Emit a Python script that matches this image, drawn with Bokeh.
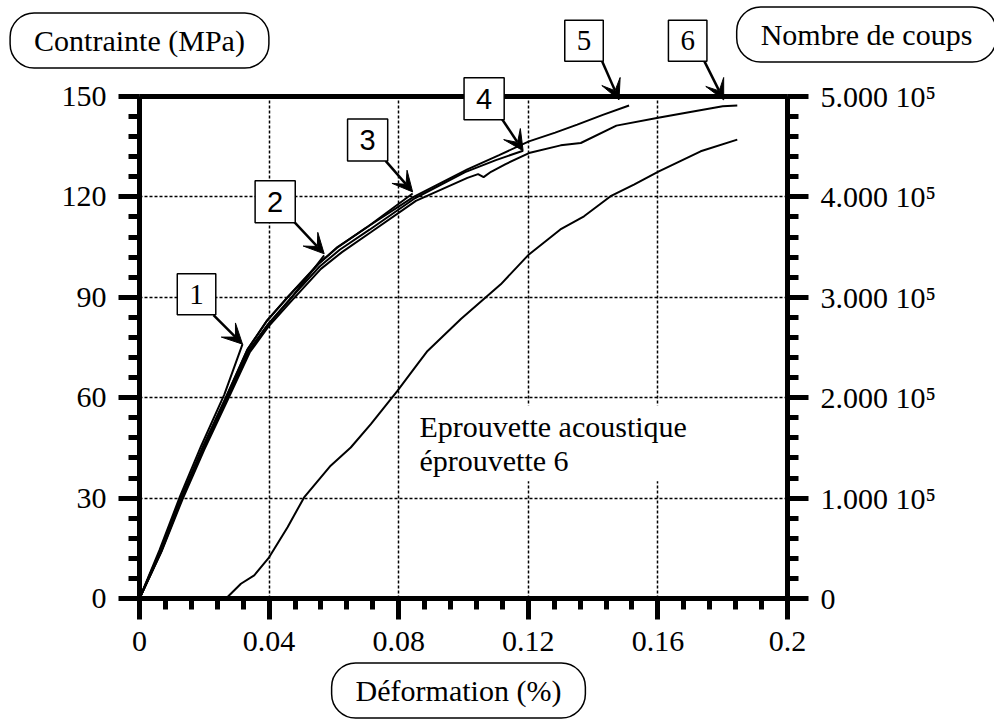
import numpy as np
from bokeh.plotting import figure
from bokeh.models import Range1d, LinearAxis, FixedTicker, Label, Arrow, VeeHead, Grid
from bokeh.embed import file_html
from bokeh.resources import INLINE

# ---------------- data ----------------
# cycles of loading (stress in MPa vs strain in %)
strain_c1 = [0, 0.0062, 0.0125, 0.0190, 0.0262, 0.0318]
stress_c1 = [0, 14.5, 30.5, 45.5, 61.0, 76.0]

strain_c2 = [0, 0.0066, 0.0130, 0.0198, 0.0270, 0.0338, 0.0398, 0.0462, 0.0570]
stress_c2 = [0, 14.0, 29.8, 44.8, 59.8, 74.0, 82.0, 89.0, 102.5]

strain_c3 = [0, 0.0064, 0.0127, 0.0193, 0.0265, 0.0332, 0.0392, 0.0455, 0.0550, 0.0610, 0.0700, 0.0843]
stress_c3 = [0, 14.2, 29.8, 44.8, 59.8, 74.2, 82.8, 89.8, 99.8, 104.8, 110.8, 121.0]

strain_c4 = [0, 0.0067, 0.0130, 0.0197, 0.0270, 0.0337, 0.0397, 0.0460, 0.0556, 0.0618, 0.0710, 0.0850, 0.1005, 0.1100, 0.1184]
stress_c4 = [0, 14.0, 29.6, 44.6, 59.6, 74.0, 82.0, 89.0, 99.2, 104.2, 110.2, 119.6, 127.4, 131.0, 133.8]

strain_c5 = [0, 0.0065, 0.0128, 0.0195, 0.0267, 0.0334, 0.0393, 0.0457, 0.0553, 0.0611, 0.0703, 0.0846,
             0.1012, 0.1110, 0.1202, 0.1283, 0.1351, 0.1430, 0.1511]
stress_c5 = [0, 14.5, 30.0, 45.0, 60.0, 74.5, 83.0, 90.0, 100.0, 105.0, 111.0, 120.0,
             128.2, 132.5, 136.6, 139.2, 141.6, 144.5, 147.3]

strain_c6 = [0, 0.0068, 0.0132, 0.0200, 0.0273, 0.0340, 0.0400, 0.0465, 0.0560, 0.0625, 0.0715, 0.0853,
             0.1012, 0.1045, 0.1062, 0.1085, 0.1130, 0.1202, 0.1300, 0.1362, 0.1472, 0.1605, 0.1700,
             0.1800, 0.1845]
stress_c6 = [0, 14.0, 29.5, 44.5, 59.5, 73.5, 81.5, 88.5, 98.5, 103.5, 109.5, 118.8,
             125.7, 126.8, 125.9, 127.5, 129.8, 133.1, 135.4, 136.1, 141.3, 143.7, 145.4,
             147.1, 147.3]

# acoustic emission (nombre de coups) vs strain
ae_strain = [0.0267, 0.0313, 0.0354, 0.0400, 0.0457, 0.0508, 0.0590, 0.0652, 0.0714, 0.0796, 0.0858,
             0.0889, 0.0992, 0.1115, 0.1202, 0.1299, 0.1372, 0.1454, 0.1526, 0.1603, 0.1732, 0.1845]
ae_counts = [0, 14700, 23000, 41000, 71000, 100700, 132300, 150400, 173700, 206800, 233400,
             246600, 278300, 312900, 342700, 367600, 380700, 400700, 412300, 425400, 445400, 457000]

# numbered markers (arrow tip points)
mark_labels = ["1", "2", "3", "4", "5", "6"]
mark_strain = [0.0318, 0.0570, 0.0843, 0.1184, 0.1480, 0.1803]
mark_stress = [76.0, 103.0, 121.5, 133.8, 149.0, 149.0]

x_ticks = [0.0, 0.04, 0.08, 0.12, 0.16, 0.2]
x_tick_labels = ["0", "0.04", "0.08", "0.12", "0.16", "0.2"]
y_ticks = [0, 30, 60, 90, 120, 150]
y2_ticks = [0, 100000, 200000, 300000, 400000, 500000]
y2_tick_labels = ["0", "1.000 10\u2075", "2.000 10\u2075", "3.000 10\u2075", "4.000 10\u2075", "5.000 10\u2075"]
x_grid = [0.04, 0.08, 0.12, 0.16]
y_grid = [30, 60, 90, 120]

X_MAX, Y_MAX, Y2_MAX = 0.2, 150.0, 500000.0

# ---------------- layout helpers (canvas pixels -> data) ----------------
W, H = 994, 722
FX0, FX1 = 139.0, 787.0   # data-area left/right, px
FY0, FY1 = 598.0, 96.0    # data-area bottom/top, px
def px2x(px):
    return (px - FX0) / (FX1 - FX0) * X_MAX
def px2y(py):
    return (FY0 - py) / (FY0 - FY1) * Y_MAX
def dpx2x(d):
    return d / (FX1 - FX0) * X_MAX
def dpx2y(d):
    return -d / (FY0 - FY1) * Y_MAX

SERIF = "Liberation Serif"
SANS = "Liberation Sans"

p = figure(width=W, height=H,
           x_range=Range1d(px2x(0), px2x(W)), y_range=Range1d(px2y(H), px2y(0)),
           x_axis_type=None, y_axis_type=None,
           output_backend="svg", toolbar_location=None, min_border=0,
           background_fill_color="white", border_fill_color="white")
p.outline_line_color = None
r = Y2_MAX / Y_MAX
p.extra_y_ranges = {"coups": Range1d(px2y(H) * r, px2y(0) * r)}

ax_b = LinearAxis(fixed_location=0, bounds=(0, X_MAX))
ax_l = LinearAxis(fixed_location=0, bounds=(0, Y_MAX))
ax_r = LinearAxis(fixed_location=X_MAX, bounds=(0, Y2_MAX), y_range_name="coups")
ax_t = LinearAxis(fixed_location=Y_MAX, bounds=(0, X_MAX))
p.add_layout(ax_b, "below")
p.add_layout(ax_l, "left")
p.add_layout(ax_r, "right")
p.add_layout(ax_t, "above")

ax_b.ticker = FixedTicker(ticks=x_ticks, minor_ticks=list(np.round(np.arange(0, 0.2001, 0.008), 4)))
ax_b.major_label_overrides = {t: l for t, l in zip(x_ticks, x_tick_labels)}
ax_l.ticker = FixedTicker(ticks=y_ticks, minor_ticks=list(range(0, 151, 6)))
ax_r.ticker = FixedTicker(ticks=y2_ticks, minor_ticks=list(range(0, 500001, 20000)))
ax_r.major_label_overrides = {t: l for t, l in zip(y2_ticks, y2_tick_labels)}
ax_t.ticker = FixedTicker(ticks=[], minor_ticks=[])

for ax in [ax_b, ax_l, ax_r, ax_t]:
    ax.axis_line_width = 5
    ax.axis_line_color = "black"
    ax.major_tick_line_width = 5
    ax.minor_tick_line_width = 5
    ax.major_tick_out = 21
    ax.major_tick_in = 0
    ax.minor_tick_out = 11
    ax.minor_tick_in = 0
    ax.major_label_text_font = SERIF
    ax.major_label_text_font_size = "30px"
    ax.major_label_text_color = "black"
    ax.major_label_standoff = 12

# dotted grid limited to the data area
gx = Grid(dimension=0, ticker=FixedTicker(ticks=x_grid))
gy = Grid(dimension=1, ticker=FixedTicker(ticks=y_grid))
has_cross = "cross_bounds" in Grid.properties()
for g, cb in [(gx, (0, Y_MAX)), (gy, (0, X_MAX))]:
    g.grid_line_color = "black"
    g.grid_line_dash = "3 2"
    g.grid_line_width = 1.5
    if has_cross:
        g.cross_bounds = cb
        p.add_layout(g, "center")
if not has_cross:
    p.segment(x0=x_grid, y0=[0] * len(x_grid), x1=x_grid, y1=[Y_MAX] * len(x_grid),
              line_color="black", line_dash="3 2", line_width=1.5, level="underlay")
    p.segment(x0=[0] * len(y_grid), y0=y_grid, x1=[X_MAX] * len(y_grid), y1=y_grid,
              line_color="black", line_dash="3 2", line_width=1.5, level="underlay")

for sx, sy in [(strain_c1, stress_c1), (strain_c2, stress_c2), (strain_c3, stress_c3),
               (strain_c4, stress_c4), (strain_c5, stress_c5), (strain_c6, stress_c6)]:
    p.line(sx, sy, line_color="black", line_width=2)

p.line(ae_strain, ae_counts, y_range_name="coups", line_color="black", line_width=2)

# arrows & numbered boxes
arrow_dpx = [(-29, -29), (-30, -32), (-27, -31), (-22, -33), (-18, -41), (-20, -40)]
box_dpx = [(-46, -50), (-49, -52), (-45, -52), (-39, -52), (-35, -59), (-36, -59)]
box_fonts = [SERIF, SANS, SANS, SANS, SERIF, SERIF]
for lab, xs, ys, (adx, ady), (bdx, bdy), fnt in zip(mark_labels, mark_strain, mark_stress,
                                                    arrow_dpx, box_dpx, box_fonts):
    p.add_layout(Arrow(end=VeeHead(size=20, fill_color="black", line_color="black", line_width=1),
                       x_start=xs + dpx2x(adx), y_start=ys + dpx2y(ady),
                       x_end=xs, y_end=ys, line_color="black", line_width=2.5))
    p.add_layout(Label(x=xs + dpx2x(bdx), y=ys + dpx2y(bdy), text=lab,
                       text_font=fnt, text_font_size="29px", text_align="center",
                       text_baseline="middle", text_color="black",
                       border_line_color="black", border_line_width=1.5,
                       background_fill_color="white", padding=(12, 11)))

# axis titles in rounded boxes
for txt, cx, cy in [("Contrainte (MPa)", 139, 40), ("Nombre de coups", 866, 34),
                    ("Déformation (%)", 458, 690)]:
    p.add_layout(Label(x=px2x(cx), y=px2y(cy), text=txt, text_font=SERIF,
                       text_font_size="30px", text_align="center", text_baseline="middle",
                       text_color="black", border_line_color="black", border_line_width=1.5,
                       background_fill_color="white", padding=(24, 11), border_radius=24))

p.add_layout(Label(x=px2x(415), y=px2y(405), text="Eprouvette acoustique\néprouvette 6",
                   text_font=SERIF, text_font_size="30px", text_align="left",
                   text_baseline="top", text_color="black", text_line_height=1.05,
                   background_fill_color="white", padding=4))

open("out.html", "w").write(file_html(p, INLINE))
